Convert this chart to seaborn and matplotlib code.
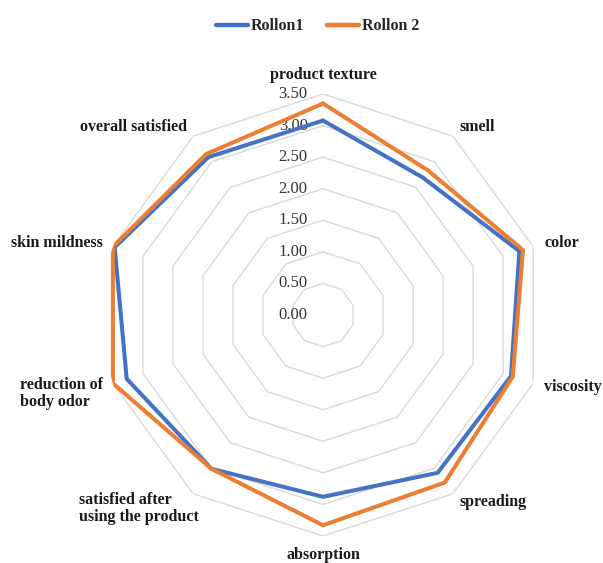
import numpy as np
import pandas as pd
import matplotlib
matplotlib.use("Agg")
import matplotlib.pyplot as plt
import seaborn as sns

categories = [
    "product texture", "smell", "color", "viscosity", "spreading",
    "absorption", "satisfied after\nusing the product",
    "reduction of\nbody odor", "skin mildness", "overall satisfied",
]
rollon1 = [3.08, 2.69, 3.27, 3.13, 3.09, 2.88, 3.01, 3.27, 3.47, 3.09]
rollon2 = [3.35, 2.83, 3.33, 3.16, 3.28, 3.33, 3.01, 3.50, 3.50, 3.15]
series_names = ["Rollon1", "Rollon 2"]
tick_values = [0.0, 0.5, 1.0, 1.5, 2.0, 2.5, 3.0, 3.5]
tick_labels = ["0.00", "0.50", "1.00", "1.50", "2.00", "2.50", "3.00", "3.50"]

sns.set_theme(style="white")
plt.rcParams["font.family"] = ["Liberation Serif", "DejaVu Serif"]

n = len(categories)
# clockwise from the top
angles = np.pi / 2 - 2 * np.pi * np.arange(n) / n
closed = np.append(angles, angles[0])

rows = []
for name, vals in zip(series_names, [rollon1, rollon2]):
    v = list(vals) + [vals[0]]
    for a, r in zip(closed, v):
        rows.append({"angle": a, "value": r, "series": name})
df = pd.DataFrame(rows)

fig = plt.figure(figsize=(6.03, 5.63), dpi=100)
ax = fig.add_axes([0.1692, 0.048, 0.733, 0.785], projection="polar")
ax.set_ylim(0, 3.5)
ax.grid(False)
ax.spines["polar"].set_visible(False)
ax.set_xticks([])
ax.set_yticks([])

# polygonal grid rings
for t in tick_values[1:]:
    ax.plot(closed, [t] * len(closed), color="#d9d9d9", lw=1.0, zorder=1)

palette = {"Rollon1": "#4472C4", "Rollon 2": "#ED7D31"}
sns.lineplot(data=df, x="angle", y="value", hue="series", sort=False,
             palette=palette, lw=2.9, ax=ax, legend=False, zorder=3,
             estimator=None)
ax.set_xlabel("")
ax.set_ylabel("")

# radial tick labels along the top axis
for t, lab in zip(tick_values, tick_labels):
    ax.annotate(lab, xy=(np.pi / 2, t), xytext=(-11, 0),
                textcoords="offset points", ha="right", va="center",
                fontsize=12, color="#333333", zorder=2)

# category labels
label_style = [
    ((0, 14), "center", "center"),
    ((5, 7), "left", "center"),
    ((8, 3), "left", "center"),
    ((8, -2.5), "left", "center"),
    ((5, -6), "left", "center"),
    ((0, -14), "center", "center"),
    ((-39, -10.5), "center", "center"),
    ((-7, -7.5), "right", "center"),
    ((-7, 3), "right", "center"),
    ((-4.5, 7), "right", "center"),
]
for a, cat, (off, ha, va) in zip(angles, categories, label_style):
    ax.annotate(cat, xy=(a, 3.5), xytext=off, textcoords="offset points",
                ha=ha, va=va, multialignment="left", fontsize=11.5,
                fontweight="bold", color="#1a1a1a", annotation_clip=False,
                linespacing=1.05)

handles = [plt.Line2D([], [], color=palette[s], lw=3.2) for s in series_names]
fig.legend(handles, series_names, loc="upper center", ncol=2,
           bbox_to_anchor=(0.527, 0.993), frameon=False, handlelength=2.0,
           columnspacing=1.4, handletextpad=0.2,
           prop={"weight": "bold", "size": 11.5})

fig.savefig("out.png", dpi=100)
